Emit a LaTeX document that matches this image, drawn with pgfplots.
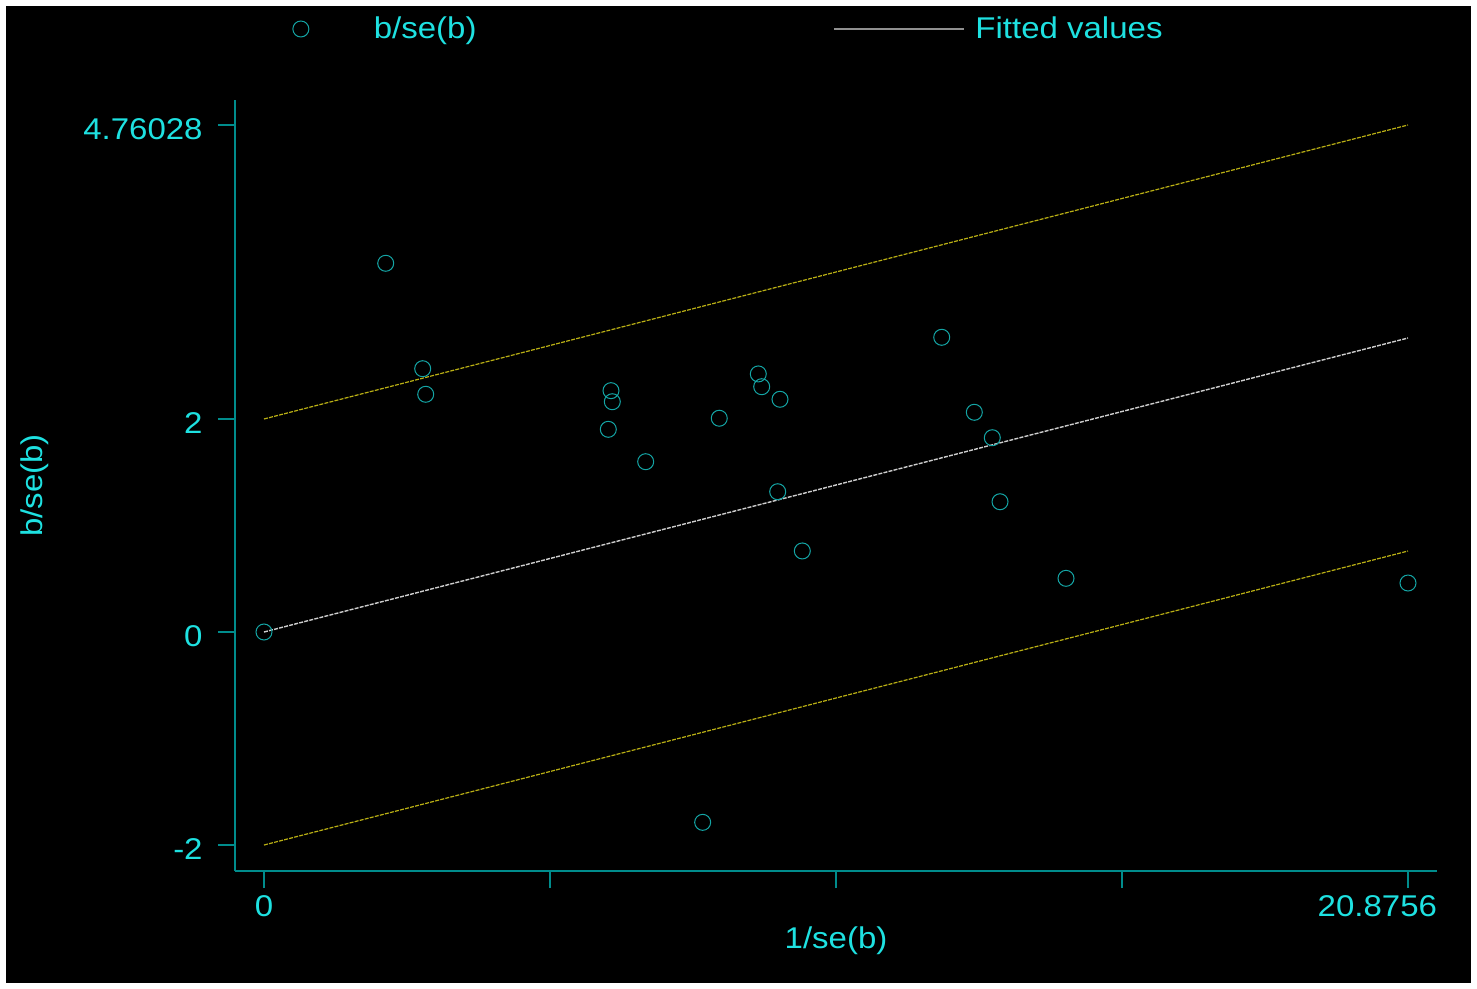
\documentclass[border=0pt]{standalone}
\usepackage{fontspec}
\setmainfont{Liberation Sans}[FakeStretch=1.1]
\usepackage{pgfplots}
\pgfplotsset{compat=1.18}
\definecolor{cyantext}{RGB}{30,225,225}
\definecolor{axisteal}{RGB}{0,140,140}
\definecolor{markteal}{RGB}{20,165,165}
\definecolor{bandyellow}{RGB}{185,175,20}
\definecolor{fitgray}{RGB}{205,205,205}
\newcommand\f{\fontsize{15pt}{18pt}\selectfont}
\begin{document}
\begin{tikzpicture}
\fill[white] (0pt,0pt) rectangle (738.5pt,-494.5pt);
\fill[black] (3pt,-3pt) rectangle (735.5pt,-491.5pt);
\useasboundingbox (0pt,0pt) rectangle (738.5pt,-494.5pt);
\begin{axis}[
  at={(117.5pt,-435.5pt)}, anchor=south west,
  scale only axis, width=601pt, height=385.5pt,
  xmin=-0.529, xmax=21.405, ymin=-2.244, ymax=4.995,
  axis x line=bottom, axis y line=left,
  axis line style={draw=axisteal, line width=0.6pt, -},
  xtick={0,5.2189,10.4378,15.6567,20.8756},
  xticklabels={0,,,,{\makebox[0pt][r]{20.8756\hspace*{-14.5pt}}}},
  ytick={-2,0,2,4.76028},
  yticklabels={-2,0,2,4.76028},
  tick align=outside, major tick length=8.5pt,
  tick style={draw=axisteal, line width=0.6pt},
  tick label style={font=\f, text=cyantext},
  xticklabel style={anchor=north, inner sep=0pt, yshift=-3.5pt},
  yticklabel style={anchor=east, inner sep=0pt, xshift=-7.5pt, yshift=-2pt},
  xlabel={1/se(b)}, ylabel={b/se(b)},
  label style={font=\f, text=cyantext},
  xlabel style={at={(axis description cs:0.5,-0.091)}, anchor=center},
  ylabel style={at={(axis description cs:-0.1664,0.5)}, anchor=center},
  legend columns=2,
  legend style={draw=none, fill=none, font=\f, text=cyantext,
    at={(axis description cs:0.0474,1.0921)}, anchor=west,
    inner sep=0pt, column sep=0pt, nodes={inner sep=0pt},
    /tikz/every even column/.append style={column sep=178.5pt}},
  clip=false,
]
\addplot[only marks, mark=o, mark size=4pt, mark options={draw=markteal, line width=0.5pt},
  legend image code/.code={\path[draw=none] (-4pt,0pt) -- (36.5pt,0pt); \draw[markteal, line width=0.5pt, solid] (0pt,0pt) circle[radius=4pt];}]
coordinates {
(0,0) (2.221,3.462) (2.896,2.472) (2.951,2.232) (6.332,2.266) (6.356,2.162)
(6.283,1.903) (6.965,1.599) (8.005,-1.787) (8.308,2.007) (9.020,2.423)
(9.082,2.303) (9.416,2.185) (9.374,1.317) (9.823,0.761) (12.367,2.767)
(12.962,2.063) (13.290,1.824) (13.431,1.223) (14.635,0.504) (20.8756,0.460)
};
\addlegendentry{b/se(b)}
\addplot[fitgray, line width=0.7pt, dash pattern=on 2pt off 0.6pt,
  legend image code/.code={\path[draw=none] (0pt,0pt) -- (70.5pt,0pt); \draw[fitgray!70!black, line width=0.9pt, solid] (0pt,0pt) -- (65pt,0pt);}]
coordinates {(0,0) (20.8756,2.76028)};
\addlegendentry{Fitted values}
\addplot[bandyellow, line width=0.6pt, dash pattern=on 2pt off 0.6pt, forget plot]
coordinates {(0,2) (20.8756,4.76028)};
\addplot[bandyellow, line width=0.6pt, dash pattern=on 2pt off 0.6pt, forget plot]
coordinates {(0,-2) (20.8756,0.76028)};
\end{axis}
\end{tikzpicture}
\end{document}
